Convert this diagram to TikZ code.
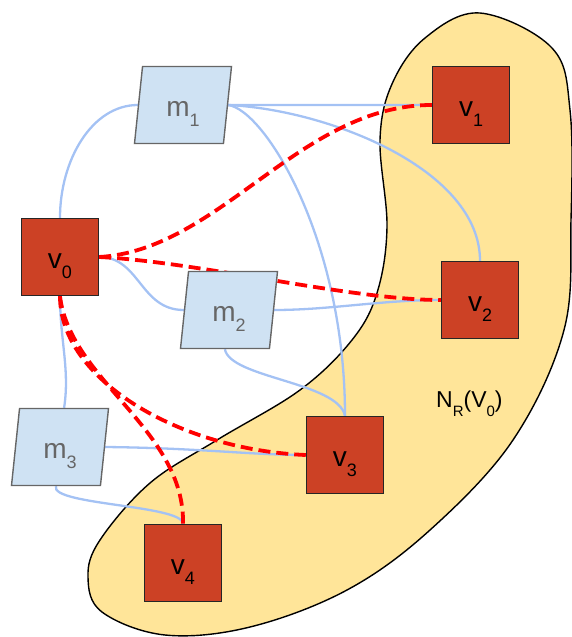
\documentclass[tikz,border=0pt]{standalone}
\usepackage{fontspec}
\setmainfont{Liberation Sans}
\usepackage{xcolor}
\usepackage{tikz}
\usetikzlibrary{shapes.geometric,backgrounds}
\definecolor{nbrfill}{HTML}{FFE599}
\definecolor{vertred}{HTML}{CC4125}
\definecolor{msgfill}{HTML}{CFE2F3}
\definecolor{msgline}{HTML}{666666}
\definecolor{linkblue}{HTML}{A4C2F4}
\newcommand{\lowsub}[2][18]{\raisebox{-10pt}{\fontsize{#1}{#1}\selectfont #2}}

\begin{document}
\begin{tikzpicture}[
  x=1pt, y=-1pt,
  vert/.style={rectangle, draw=black!85, fill=vertred, line width=1.4pt,
               minimum size=77pt, inner sep=0pt,
               text height=26pt, text depth=4pt, font=\fontsize{28}{28}\selectfont},
  msg/.style={trapezium, trapezium left angle=75, trapezium right angle=105,
              trapezium stretches body, draw=msgline, fill=msgfill, line width=1.4pt,
              minimum width=97pt, minimum height=77pt, inner sep=0pt, text=msgline,
              text height=26pt, text depth=4pt, font=\fontsize{28}{28}\selectfont},
  link/.style={draw=linkblue, line width=2.3pt},
  hop/.style={draw=red, line width=3.8pt, dash pattern=on 12pt off 6pt}
]
\useasboundingbox (0,0) rectangle (571,637);

% --- Neighbourhood region ---
\begin{scope}[on background layer]
\draw[fill=nbrfill, line width=1.4pt] plot[smooth cycle, tension=0.6] coordinates {
  (480,13) (552,48) (570,110) (571,220) (564,330) (513,440) (430,530)
  (347,590) (250,627) (165,635) (102,612) (88,577) (100,540) (150,483)
  (217,440) (300,390) (352,340) (377,293) (387,227) (380,140) (392,84) (425,38)};
\end{scope}

% --- Vertices ---
\node[vert] (v0) at (60,257)  {v\lowsub{0}};
\node[vert] (v1) at (471,105) {v\lowsub{1}};
\node[vert] (v2) at (480,300) {v\lowsub{2}};
\node[vert] (v3) at (345,455) {v\lowsub{3}};
\node[vert] (v4) at (183,563) {v\lowsub{4}};

% --- Messages ---
\node[msg] (m1) at (183,105) {m\lowsub{1}};
\node[msg] (m2) at (229,310) {m\lowsub{2}};
\node[msg] (m3) at (60,447)  {m\lowsub{3}};

\node[anchor=base west, inner sep=0pt, font=\fontsize{23}{23}\selectfont] (nbr) at (436,407)
  {N\raisebox{-9pt}{\fontsize{15}{15}\selectfont R}(V\raisebox{-9pt}{\fontsize{15}{15}\selectfont 0})};

% --- Links ---
\begin{scope}[on background layer]
\draw[link] (v0.north) .. controls (60,160) and (92,105) .. (m1.west);
\draw[link] (m1.east) -- (v1.west);
\draw[link] (m1.east) .. controls (330,110) and (480,170) .. (v2.north);
\draw[link] (m1.east) .. controls (265,110) and (345,240) .. (v3.north);
\draw[link] (v0.east) .. controls (140,257) and (140,310) .. (m2.west);
\draw[link] (m2.east) .. controls (330,310) and (380,300) .. (v2.west);
\draw[link] (m2.bottom side) .. controls (230,378) and (338,382) .. (v3.north);
\draw[link] (v0.south) .. controls (60,340) and (70,370) .. (m3.top side);
\draw[link] (m3.east) .. controls (200,448) and (250,455) .. (v3.west);
\draw[link] (m3.bottom side) .. controls (50,505) and (183,505) .. (v4.north);

% --- Hops ---
\draw[hop] (v0.east) .. controls (220,250) and (300,105) .. (v1.west);
\draw[hop] (v0.east) .. controls (200,262) and (350,300) .. (v2.west);
\draw[hop] (v0.south) .. controls (60,380) and (180,450) .. (v3.west);
\draw[hop] (v0.south) .. controls (70,380) and (185,430) .. (v4.north);
\end{scope}

\end{tikzpicture}
\end{document}
